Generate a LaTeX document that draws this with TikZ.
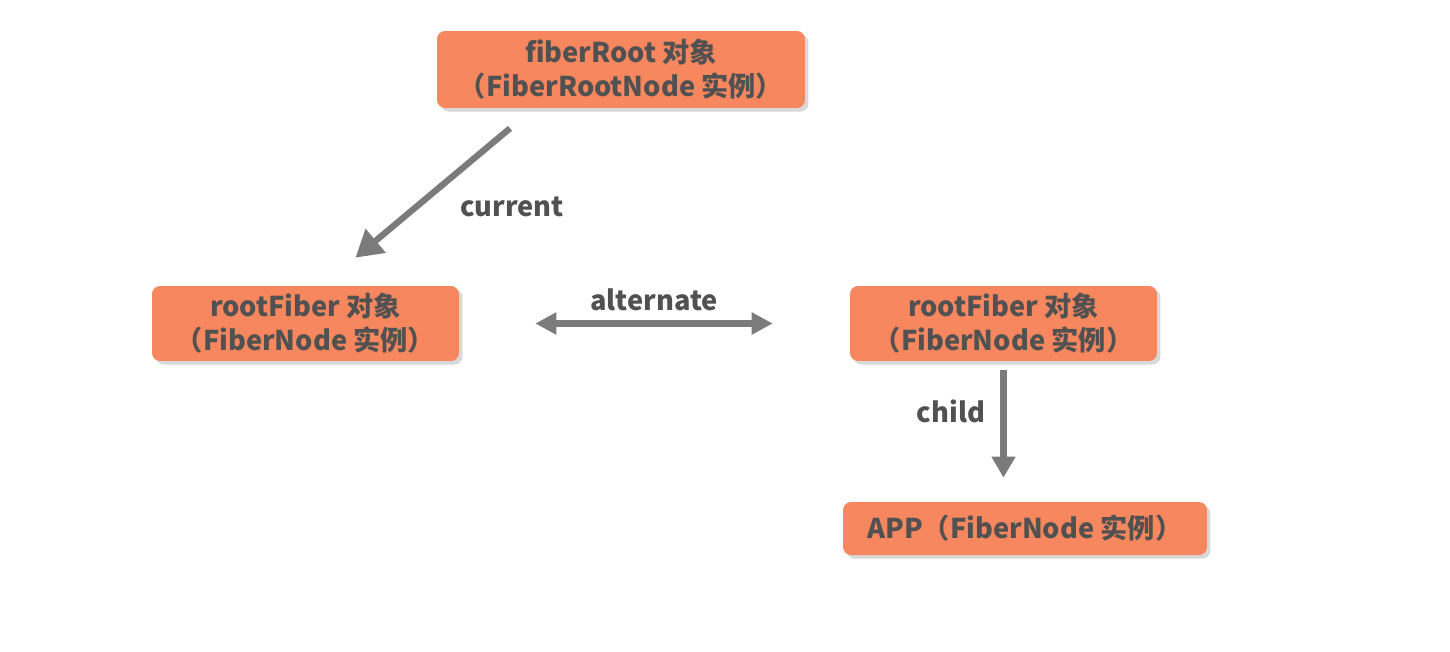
\documentclass[tikz,border=0pt]{standalone}
\usepackage{fontspec}
\setmainfont{Noto Sans CJK SC}
\usepackage{tikz}
\usetikzlibrary{arrows.meta,shadows}
\definecolor{boxorange}{HTML}{F6875F}
\definecolor{textgray}{HTML}{515151}
\definecolor{arrowgray}{HTML}{7B7B7B}
\tikzset{
  objbox/.style={fill=boxorange, rounded corners=0.16cm, align=center,
    text=textgray, font=\fontsize{15.5}{19.5}\selectfont\bfseries,
    drop shadow={opacity=0.3, shadow xshift=2pt, shadow yshift=-2pt}},
  reflabel/.style={text=textgray, font=\fontsize{15.5}{19.5}\selectfont\bfseries},
  refarrow/.style={draw=arrowgray, line width=3.6pt, -{Triangle[length=12pt,width=13pt]}}
}
\begin{document}
\begin{tikzpicture}[x=0.02cm,y=-0.02cm]
\useasboundingbox (0,0) rectangle (1450,652);
\fill[white] (0,0) rectangle (1450,652);
% objects
\node[objbox, minimum width=7.36cm, minimum height=1.54cm] (fiberroot) at (621,69.5) {fiberRoot 对象\\（FiberRootNode 实例）};
\node[objbox, minimum width=6.14cm, minimum height=1.5cm] (curfiber) at (305.5,323.5) {rootFiber 对象\\（FiberNode 实例）};
\node[objbox, minimum width=6.14cm, minimum height=1.5cm] (wipfiber) at (1003.5,323.5) {rootFiber 对象\\（FiberNode 实例）};
\node[objbox, minimum width=7.28cm, minimum height=1.06cm] (app) at (1025,528.5) {APP（FiberNode 实例）};
% current pointer
\coordinate (cur-s) at ([shift={(-111,20)}]fiberroot.south);
\coordinate (cur-e) at ([shift={(50,-28)}]curfiber.north);
\draw[refarrow, -{Triangle[length=15pt,width=17pt]}] (cur-s) -- (cur-e);
\node[reflabel] (curlabel) at (512,207) {current};
% alternate
\draw[refarrow, {Triangle[length=12pt,width=12pt]}-{Triangle[length=12pt,width=12pt]}, shorten <=1.52cm, shorten >=1.54cm] (curfiber.east) -- (wipfiber.west);
\node[reflabel] (altlabel) at (654,300) {alternate};
% child
\draw[refarrow, shorten <=0.18cm, shorten >=0.48cm] (wipfiber.south) -- (wipfiber.south |- app.north);
\node[reflabel] (childlabel) at (951,411) {child};
\end{tikzpicture}
\end{document}
